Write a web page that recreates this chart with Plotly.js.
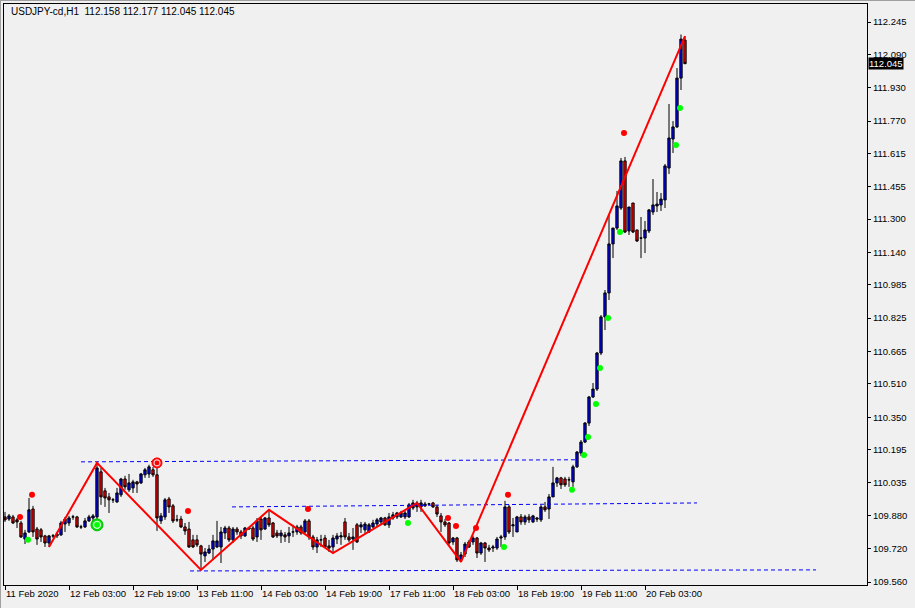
<!DOCTYPE html>
<html>
<head>
<meta charset="utf-8">
<script src="https://cdn.plot.ly/plotly-3.0.1.min.js"></script>
<style>
html,body{margin:0;padding:0;background:#f0f0f0;}
#wrap{position:relative;width:915px;height:608px;}
#chart{width:915px;height:608px;}
#frame{position:absolute;left:0;top:0;width:914px;height:607px;border-top:1px solid #a0a0a0;border-left:1px solid #a0a0a0;pointer-events:none;}
</style>
</head>
<body>
<div id="wrap"><div id="chart"></div><div id="frame"></div></div>
<script>
// ---- data: USDJPY-cd H1 candles (bar index 0 = 11 Feb 2020 11:00) ----
const open = [
109.872,109.862,109.872,109.858,109.843,109.766,109.800,109.910,109.814,109.810,
109.781,109.747,109.781,109.781,109.786,109.838,109.843,109.872,109.872,109.824,
109.824,109.853,109.867,109.872,110.088,109.997,109.968,109.954,109.944,109.978,
110.054,110.002,110.011,110.040,110.035,110.074,110.078,110.098,110.074,109.853,
109.872,109.958,109.925,109.858,109.862,109.824,109.814,109.762,109.762,109.733,
109.685,109.699,109.718,109.728,109.728,109.795,109.819,109.762,109.814,109.800,
109.781,109.814,109.819,109.776,109.862,109.814,109.867,109.843,109.795,109.781,
109.786,109.781,109.800,109.800,109.824,109.800,109.853,109.776,109.728,109.762,
109.771,109.733,109.728,109.766,109.776,109.848,109.776,109.766,109.834,109.824,
109.810,109.800,109.824,109.838,109.848,109.867,109.834,109.867,109.872,109.872,
109.872,109.872,109.915,109.939,109.920,109.925,109.934,109.939,109.920,109.877,
109.848,109.843,109.752,109.771,109.666,109.694,109.728,109.752,109.771,109.699,
109.747,109.723,109.723,109.723,109.771,109.776,109.920,109.829,109.800,109.872,
109.848,109.872,109.848,109.867,109.858,109.920,109.910,109.968,110.035,110.059,
110.054,110.050,110.040,110.112,110.178,110.231,110.322,110.447,110.485,110.658,
110.831,110.946,111.181,111.257,111.353,111.579,111.243,111.377,111.248,111.209,
111.209,111.243,111.334,111.363,111.368,111.392,111.545,111.684,111.742,111.976,
112.158];
const high = [
109.896,109.886,109.882,109.867,109.853,109.810,109.963,109.925,109.824,109.819,
109.786,109.786,109.790,109.800,109.853,109.872,109.877,109.882,109.877,109.834,
109.867,109.882,109.886,110.131,110.107,110.011,109.987,109.963,110.011,110.059,
110.069,110.078,110.050,110.045,110.083,110.107,110.122,110.112,110.117,109.891,
109.963,109.968,109.934,109.882,109.877,109.843,109.848,109.786,109.786,109.738,
109.723,109.738,109.786,109.853,109.824,109.829,109.829,109.824,109.824,109.810,
109.824,109.824,109.829,109.867,109.872,109.872,109.906,109.848,109.810,109.810,
109.800,109.824,109.834,109.834,109.834,109.862,109.862,109.786,109.776,109.786,
109.786,109.762,109.786,109.795,109.800,109.867,109.795,109.819,109.843,109.848,
109.848,109.843,109.858,109.867,109.872,109.872,109.891,109.896,109.896,109.901,
109.901,109.939,109.954,109.949,109.954,109.944,109.939,109.944,109.930,109.891,
109.862,109.848,109.776,109.776,109.704,109.752,109.762,109.781,109.776,109.752,
109.752,109.738,109.738,109.776,109.786,109.949,109.930,109.867,109.877,109.886,
109.882,109.886,109.882,109.872,109.930,109.944,109.982,110.112,110.064,110.064,
110.064,110.064,110.122,110.188,110.241,110.327,110.452,110.514,110.663,110.840,
110.960,111.320,111.257,111.435,111.593,111.598,111.358,111.377,111.248,111.310,
111.291,111.348,111.492,111.430,111.425,111.564,111.852,111.770,112.024,112.185,
112.177];
const low = [
109.848,109.853,109.838,109.819,109.771,109.742,109.795,109.776,109.738,109.752,
109.728,109.728,109.771,109.771,109.781,109.800,109.829,109.858,109.819,109.814,
109.819,109.848,109.834,109.853,109.930,109.920,109.891,109.939,109.939,109.968,
110.002,109.992,109.987,109.987,110.030,110.059,110.059,110.064,109.805,109.838,
109.858,109.891,109.843,109.848,109.819,109.786,109.723,109.723,109.728,109.618,
109.656,109.694,109.666,109.723,109.651,109.766,109.752,109.747,109.786,109.766,
109.776,109.810,109.757,109.752,109.762,109.810,109.824,109.771,109.771,109.747,
109.752,109.747,109.776,109.786,109.786,109.795,109.762,109.714,109.699,109.728,
109.723,109.704,109.699,109.742,109.738,109.762,109.752,109.714,109.747,109.795,
109.795,109.795,109.819,109.824,109.838,109.829,109.819,109.858,109.862,109.867,
109.862,109.867,109.906,109.896,109.896,109.920,109.930,109.915,109.872,109.800,
109.824,109.738,109.738,109.656,109.656,109.680,109.723,109.738,109.675,109.690,
109.656,109.704,109.704,109.714,109.728,109.762,109.790,109.776,109.800,109.834,
109.834,109.843,109.843,109.848,109.848,109.896,109.862,109.968,110.016,110.006,
110.016,110.016,110.016,110.107,110.164,110.226,110.308,110.442,110.476,110.648,
110.768,110.912,111.113,111.248,111.344,111.233,111.224,111.233,111.190,111.113,
111.137,111.233,111.320,111.334,111.339,111.353,111.516,111.617,111.737,111.919,
112.045];
const close = [
109.858,109.877,109.843,109.848,109.776,109.795,109.906,109.800,109.766,109.776,
109.747,109.781,109.781,109.790,109.843,109.862,109.867,109.872,109.824,109.824,
109.853,109.872,109.877,110.107,109.968,109.963,109.954,109.954,109.987,110.054,
110.016,110.035,110.040,110.030,110.078,110.098,110.112,110.074,109.867,109.877,
109.954,109.920,109.853,109.858,109.824,109.805,109.728,109.728,109.738,109.694,
109.704,109.718,109.757,109.757,109.800,109.819,109.762,109.814,109.800,109.781,
109.819,109.819,109.766,109.853,109.810,109.867,109.834,109.776,109.781,109.795,
109.776,109.795,109.800,109.824,109.795,109.853,109.776,109.728,109.762,109.762,
109.728,109.723,109.771,109.781,109.781,109.776,109.762,109.776,109.752,109.834,
109.838,109.834,109.843,109.858,109.867,109.834,109.872,109.882,109.891,109.891,
109.891,109.930,109.939,109.920,109.939,109.934,109.934,109.920,109.886,109.848,
109.834,109.747,109.771,109.666,109.690,109.742,109.752,109.771,109.699,109.747,
109.723,109.714,109.728,109.766,109.776,109.920,109.800,109.834,109.872,109.848,
109.872,109.858,109.877,109.862,109.920,109.906,109.968,110.035,110.059,110.026,
110.026,110.050,110.112,110.183,110.231,110.322,110.447,110.485,110.658,110.831,
110.946,111.181,111.257,111.363,111.579,111.238,111.358,111.238,111.195,111.209,
111.248,111.344,111.368,111.372,111.396,111.555,111.689,111.742,111.976,112.163,
112.045];

// time-axis labels (every 16 bars)
const timeTickBars = [0,16,32,48,64,80,96,112,128,144,160];
const timeTickLabels = ["11 Feb 2020","12 Feb 03:00","12 Feb 19:00","13 Feb 11:00","14 Feb 03:00",
  "14 Feb 19:00","17 Feb 11:00","18 Feb 03:00","18 Feb 19:00","19 Feb 11:00","20 Feb 03:00"];
// price scale labels
const priceTicks = [109.560,109.720,109.880,110.035,110.195,110.350,110.510,110.665,110.825,
  110.985,111.140,111.300,111.455,111.615,111.770,111.930,112.090,112.245];

// ZigZag pivots
const zigzagBars = [11,23,49,66,82,103,114,170];
const zigzagPrices = [109.728,110.131,109.618,109.906,109.699,109.939,109.656,112.177];

// dashed level lines (start bar, end bar, start price, end price)
const levelStartBar = [19,56.75,46.25];
const levelEndBar = [142.5,173,202.75];
const levelStartPrice = [110.136,109.920,109.613];
const levelEndPrice = [110.146,109.939,109.618];

// upper (red) and lower (green) signal dots
const redDotBars = [4,7,46,76,111,113,118,126,155];
const redDotPrices = [109.872,109.978,109.901,109.910,109.867,109.829,109.819,109.978,111.713];
const greenDotBars = [6,101,125,142,145,146,148,149,151,154,168,169];
const greenDotPrices = [109.762,109.843,109.728,110.002,110.169,110.255,110.413,110.586,110.826,111.238,111.655,111.833];

// ringed fractal markers
const ringBarsUp = [38];   const ringPricesUp = [110.131];
const ringBarsDown = [23]; const ringPricesDown = [109.834];

const symbolTitle = "USDJPY-cd,H1  112.158 112.177 112.045 112.045";
const lastPrice = 112.045;

// ---- build ----
const DOT_SHIFT = -0.25;
const bars = open.map((_, i) => i);
const FONT = "Liberation Sans, Arial, sans-serif";

const traces = [];
traces.push({
  type: 'candlestick', x: bars, open: open, high: high, low: low, close: close,
  increasing: {line: {color: '#000000', width: 1}, fillcolor: '#0000ff'},
  decreasing: {line: {color: '#000000', width: 1}, fillcolor: '#ff0000'},
  whiskerwidth: 0, hoverinfo: 'skip', showlegend: false
});
// level lines
for (let k = 0; k < levelStartBar.length; k++) {
  traces.push({type: 'scatter', mode: 'lines',
    x: [levelStartBar[k], levelEndBar[k]], y: [levelStartPrice[k], levelEndPrice[k]],
    line: {color: '#0000ff', width: 1, dash: '4px,3px'}, hoverinfo: 'skip', showlegend: false});
}
// zigzag
traces.push({type: 'scatter', mode: 'lines', x: zigzagBars, y: zigzagPrices,
  line: {color: '#ff0000', width: 2}, hoverinfo: 'skip', showlegend: false});
// dots
traces.push({type: 'scatter', mode: 'markers', x: redDotBars.map(b => b + DOT_SHIFT), y: redDotPrices,
  marker: {color: '#ff0000', size: 6, line: {width: 0}}, hoverinfo: 'skip', showlegend: false});
traces.push({type: 'scatter', mode: 'markers', x: greenDotBars.map(b => b + DOT_SHIFT), y: greenDotPrices,
  marker: {color: '#00ff00', size: 6, line: {width: 0}}, hoverinfo: 'skip', showlegend: false});
// rings
traces.push({type: 'scatter', mode: 'markers', x: ringBarsUp, y: ringPricesUp,
  marker: {symbol: 'circle', color: '#ff0000', size: 10, line: {color: '#ff0000', width: 1}}, hoverinfo: 'skip', showlegend: false});
traces.push({type: 'scatter', mode: 'markers', x: ringBarsUp, y: ringPricesUp,
  marker: {symbol: 'circle', color: '#ff0000', size: 6, line: {color: '#ffc8c8', width: 1.2}}, hoverinfo: 'skip', showlegend: false});
traces.push({type: 'scatter', mode: 'markers', x: ringBarsDown, y: ringPricesDown,
  marker: {symbol: 'circle', color: '#00e000', size: 12, line: {color: '#00c000', width: 1}}, hoverinfo: 'skip', showlegend: false});
traces.push({type: 'scatter', mode: 'markers', x: ringBarsDown, y: ringPricesDown,
  marker: {symbol: 'circle', color: '#00ff00', size: 7, line: {color: '#c8ffc8', width: 1.4}}, hoverinfo: 'skip', showlegend: false});

const layout = {
  width: 915, height: 608,
  margin: {l: 4, r: 48, t: 4, b: 23, pad: 0},
  paper_bgcolor: '#f0f0f0', plot_bgcolor: '#f0f0f0',
  font: {family: FONT, size: 9.5, color: '#000000'},
  showlegend: false,
  boxgap: 0.18,
  xaxis: {
    range: [-0.25, 215.5], autorange: false, fixedrange: true,
    rangeslider: {visible: false},
    showgrid: false, zeroline: false,
    showline: true, mirror: true, linecolor: '#000000', linewidth: 1,
    tickmode: 'array', tickvals: timeTickBars, ticktext: timeTickLabels,
    ticks: 'outside', ticklen: 4, tickcolor: '#000000', tickwidth: 1,
    tickangle: 0, ticklabelposition: 'outside right',
    tickfont: {family: FONT, size: 9.5, color: '#000000'}
  },
  yaxis: {
    side: 'right',
    range: [109.5456, 112.3313], autorange: false, fixedrange: true,
    showgrid: false, zeroline: false,
    showline: true, mirror: true, linecolor: '#000000', linewidth: 1,
    tickmode: 'array', tickvals: priceTicks, ticktext: priceTicks.map(v => v.toFixed(3)),
    ticks: 'outside', ticklen: 3, tickcolor: '#000000', tickwidth: 1,
    tickfont: {family: FONT, size: 9.5, color: '#000000'}
  },
  annotations: [
    {xref: 'paper', yref: 'paper', x: 0.006, y: 0.987, xanchor: 'left', yanchor: 'middle',
     text: symbolTitle, showarrow: false, font: {family: FONT, size: 10, color: '#000000'}},
    {xref: 'paper', yref: 'y', x: 1, y: lastPrice, xanchor: 'left', yanchor: 'middle', xshift: 1,
     text: lastPrice.toFixed(3), showarrow: false, bgcolor: '#000000', borderpad: 0,
     font: {family: FONT, size: 9.5, color: '#ffffff'}}
  ]
};

Plotly.newPlot('chart', traces, layout, {staticPlot: true, displayModeBar: false});
</script>
</body>
</html>
